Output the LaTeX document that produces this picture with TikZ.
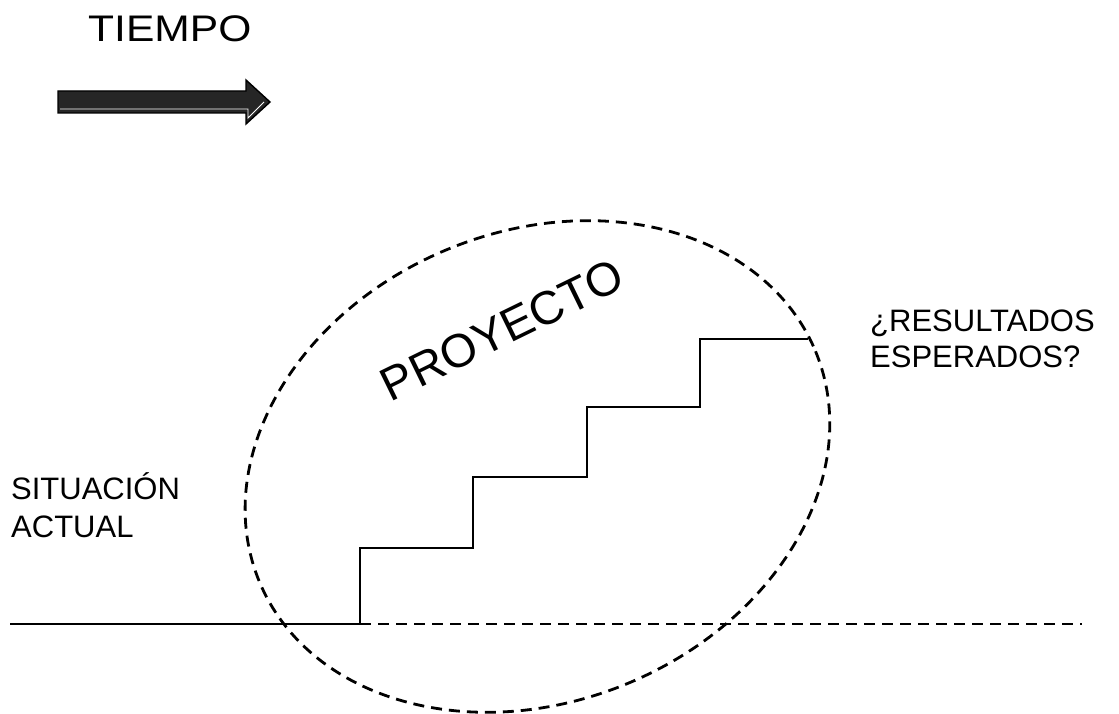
\documentclass[tikz,border=0pt]{standalone}
\usepackage{fontspec}
\setmainfont{Liberation Sans}
\begin{document}
\begin{tikzpicture}[x=1pt,y=-1pt,
  stair/.style={line width=2.8pt,line join=miter},
  dashline/.style={line width=2.8pt,dash pattern=on 11pt off 7pt},
  label/.style={inner sep=0pt,align=left,font=\fontsize{31}{38}\selectfont}]
\useasboundingbox (0,0) rectangle (1119,714);
% time arrow
\node[inner sep=0pt,anchor=base west,xscale=1.15,font=\fontsize{37}{37}\selectfont] (tiempo) at (88,42) {TIEMPO};
\draw[line width=1.4pt,fill=black!85] (58,91) -- (246,91) -- (246,80) -- (270,102) -- (246,124) -- (246,113) -- (58,113) -- cycle;
\draw[white,line width=0.9pt] (60,109) -- (248,109) -- (248,118) -- (264,102);
% project ellipse
\coordinate (c) at (537.5,466.5);
\draw[dashline,rotate around={22.5:(c)}] (c) ellipse [x radius=301, y radius=235];
% staircase
\coordinate (s0) at (10,624);
\coordinate (s1) at (360,624);
\draw[stair] (s0) -- (s1) -- (360,548) -- (473,548) -- (473,477) -- (587,477) -- (587,407) -- (700,407) -- (700,339) -- (808,339);
\coordinate (e) at (1082,624);
\draw[dashline] (s1) -- (e);
% labels (base anchor sits on the last line)
\node[inner sep=0pt,rotate=26,font=\fontsize{47}{47}\selectfont] (proy) at (502,330) {PROYECTO};
\node[label,anchor=base west] (res) at (870,367) {¿RESULTADOS\\[-2pt]ESPERADOS?};
\node[label,anchor=base west] (sit) at (11,537) {SITUACIÓN\\ACTUAL};
\end{tikzpicture}
\end{document}
